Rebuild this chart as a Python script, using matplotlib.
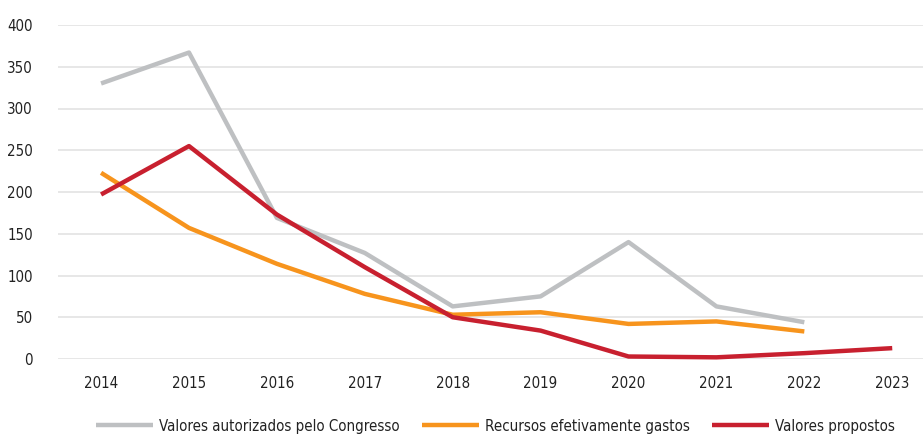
import matplotlib
matplotlib.use("Agg")
import matplotlib.pyplot as plt

years = ["2014", "2015", "2016", "2017", "2018", "2019", "2020", "2021", "2022", "2023"]
autorizados = [330, 367, 169, 127, 63, 75, 140, 63, 44]
gastos = [223, 157, 114, 78, 53, 56, 42, 45, 33]
propostos = [197, 255, 173, 110, 50, 34, 3, 2, 7, 13]
yticks = [0, 50, 100, 150, 200, 250, 300, 350, 400]

labels = ["Valores autorizados pelo Congresso", "Recursos efetivamente gastos", "Valores propostos"]
colors = ["#BEC0C2", "#F7941D", "#C8202F"]

plt.rcParams['font.family'] = ['DejaVu Sans']
plt.rcParams['font.stretch'] = 'condensed'

fig = plt.figure(figsize=(9.23, 4.34), dpi=100)
ax = fig.add_axes([58/923, (434-359)/434, 1 - 58/923, (359-25)/434])

x = list(range(len(years)))
for vals, lab, c in zip([autorizados, gastos, propostos], labels, colors):
    ax.plot(x[:len(vals)], vals, color=c, lw=3.2, label=lab, solid_capstyle='butt', clip_on=False, zorder=3)

ax.set_xlim(-0.49, 9.35)
ax.set_ylim(0, 400)
ax.set_yticks(yticks)
ax.set_xticks(x)
ax.set_xticklabels(years)
ax.grid(axis='y', color='#E3E3E3', lw=1.2)
ax.set_axisbelow(True)
for s in ax.spines.values():
    s.set_visible(False)
ax.tick_params(axis='both', length=0, labelsize=10.8, colors='#222222')
ax.tick_params(axis='y', pad=18)
ax.tick_params(axis='x', pad=12)

leg = fig.legend(loc='lower center', bbox_to_anchor=(0.537, -0.03), ncol=3, frameon=False,
                 fontsize=10.8, handlelength=3.8, columnspacing=1.5, handletextpad=0.4)
for t in leg.get_texts():
    t.set_color('#222222')

fig.savefig("out.png", dpi=100)
